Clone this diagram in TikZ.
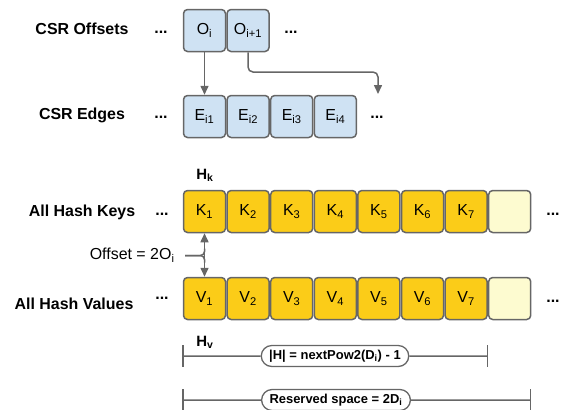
\documentclass[tikz,border=0pt]{standalone}
\usepackage{fontspec}
\setmainfont{Liberation Sans}
\usetikzlibrary{arrows.meta,shapes.misc}
\definecolor{csrblue}{RGB}{207,226,243}
\definecolor{hashgold}{RGB}{251,204,24}
\definecolor{hashpale}{RGB}{253,251,208}
\definecolor{linegray}{RGB}{102,102,102}
\tikzset{
  cell/.style={draw=linegray, line width=1.5bp, rounded corners=4bp, minimum width=42bp,
    minimum height=42bp, inner sep=0pt, font=\fontsize{16}{19}\selectfont},
  rowlabel/.style={anchor=base, font=\fontsize{16}{19}\selectfont\bfseries},
  dots/.style={anchor=base, font=\fontsize{16}{19}\selectfont\bfseries},
  pill/.style={rounded rectangle, draw=linegray, line width=1.3bp, fill=white, inner xsep=6bp,
    minimum height=21bp, font=\fontsize{13}{15}\selectfont\bfseries},
  wire/.style={draw=linegray, line width=1.5bp},
}
\begin{document}
\begin{tikzpicture}[x=1bp, y=-1bp, line join=round, >={Triangle[width=8bp,length=9bp]}]
\useasboundingbox (0,0) rectangle (571,409);
% row labels
\node[rowlabel] (lo) at (82,34) {CSR Offsets};
\node[rowlabel] (le) at (82,119) {CSR Edges};
\node[rowlabel] (lk) at (82,216) {All Hash Keys};
\node[rowlabel] (lv) at (74,309) {All Hash Values};
% csr arrays
\node[cell, fill=csrblue] (o1) at (204.5,30.5) {O\textsubscript{i}};
\node[cell, fill=csrblue] (o2) at (248,30.5) {O\textsubscript{i+1}};
\foreach \k in {1,...,4}
  \node[cell, fill=csrblue] (e\k) at ({204.5+43.6*(\k-1)},116.5) {E\textsubscript{i\k}};
% hash arrays
\foreach \k in {1,...,7} {
  \node[cell, fill=hashgold] (k\k) at ({204.5+43.6*(\k-1)},211.5) {K\textsubscript{\k}};
  \node[cell, fill=hashgold] (v\k) at ({204.5+43.6*(\k-1)},298.5) {V\textsubscript{\k}};
}
\node[cell, fill=hashpale] (k8) at (509.7,211.5) {};
\node[cell, fill=hashpale] (v8) at (509.7,298.5) {};
\node[font=\fontsize{15}{18}\selectfont\bfseries, anchor=base] (hk) at (205,179) {H\textsubscript{k}};
\node[font=\fontsize{15}{18}\selectfont\bfseries, anchor=base] (hv) at (205,346) {H\textsubscript{v}};
% ellipses
\foreach \n/\x/\y in {do1/161/33, do2/291/33, de1/161/118, de2/377/118,
    dk1/162/215, dk2/553/215, dv1/162/299, dv2/553/302}
  \node[dots] (\n) at (\x,\y) {...};
% pointers
\coordinate (bend) at (300,72);
\coordinate (enext) at (378,94);
\draw[wire, ->] (o1.south) -- (e1.north);
\draw[wire, ->, rounded corners=5bp] (o2.south) |- (bend) -| (enext);
\draw[wire, <->] (k1.south) -- (v1.north);
\node[anchor=east, font=\fontsize{16}{19}\selectfont] (off) at (178,255.5) {Offset = 2O\textsubscript{i}};
\draw[wire, rounded corners=4bp] ([xshift=7bp]off.east) -| ([yshift=7bp]k1.south |- off.east);
\draw[wire, rounded corners=4bp] ([xshift=7bp]off.east) -| ([yshift=-7bp]k1.south |- off.east);
% sizes
\coordinate (hl) at (183,356);
\coordinate (hr) at (487.5,356);
\node[pill] (hsize) at (335,356) {|H| = nextPow2(D\textsubscript{i}) - 1};
\draw[wire] (hl) -- (hsize) -- (hr);
\coordinate (rl) at (183,400);
\coordinate (rr) at (530.5,400);
\node[pill] (rsize) at (336,400) {Reserved space = 2D\textsubscript{i}};
\draw[wire] (rl) -- (rsize) -- (rr);
\foreach \c in {hl,hr,rl,rr}
  \draw[wire] ([yshift=11bp]\c) -- ([yshift=-11bp]\c);
\end{tikzpicture}
\end{document}
